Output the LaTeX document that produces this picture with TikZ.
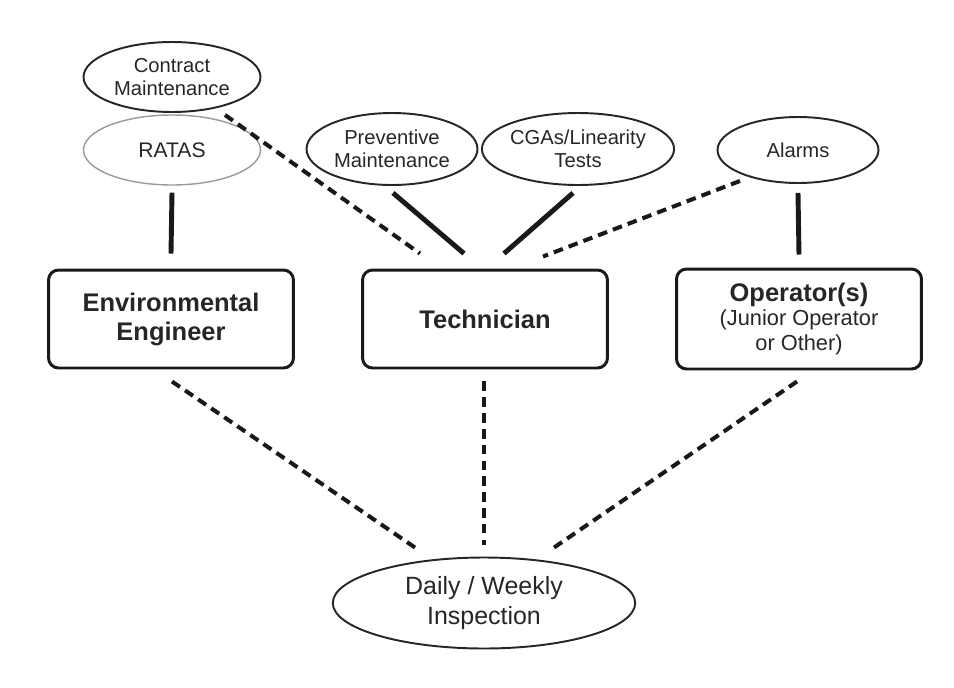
\documentclass[tikz,border=0pt]{standalone}
\usepackage{fontspec}
\setmainfont{Liberation Sans}
\usepackage{tikz}
\usetikzlibrary{calc,positioning,shapes.geometric}

\newcommand{\subrole}[1]{{\fontsize{12.4}{14}\selectfont\mdseries #1}}

\begin{document}
\begin{tikzpicture}[x=0.02cm,y=-0.02cm]

\useasboundingbox (0,0) rectangle (954,687);

\tikzstyle{duty} = [ellipse, draw=black!85, line width=1.1pt, text=black!85, align=center, inner sep=0pt, font=\fontsize{11.5}{13}\selectfont]
\tikzstyle{rolebox} = [rectangle, draw=black!90, line width=1.7pt, rounded corners=0.2cm, text=black!85, align=center, minimum width=4.9cm, minimum height=1.96cm, font=\fontsize{14.5}{16.5}\selectfont\bfseries]
\tikzstyle{solidline} = [black!90, line width=2.8pt]
\tikzstyle{dashline} = [black!90, line width=2.3pt, dash pattern=on 5.5pt off 3.5pt]

% duties
\node (cm) [duty, minimum width=3.54cm, minimum height=1.4cm] at (172,77) {Contract\\Maintenance};
\node (ratas) [duty, draw=black!40, line width=0.8pt, minimum width=3.54cm, minimum height=1.4cm, font=\fontsize{12}{14}\selectfont] at (172,150) {RATAS};
\node (pm) [duty, minimum width=3.42cm, minimum height=1.44cm] at (392,149) {Preventive\\Maintenance};
\node (cga) [duty, minimum width=3.42cm, minimum height=1.44cm] at (578,149) {CGAs/Linearity\\Tests};
\node (alarms) [duty, minimum width=3.22cm, minimum height=1.32cm] at (798,150) {Alarms};

% people
\node (env) [rolebox] at (171,319) {Environmental\\Engineer};
\node (tech) [rolebox] at (485,319) {Technician};
\node (oper) [rolebox, minimum height=2cm] at (799,319) {Operator(s)\\[-3pt]\subrole{(Junior Operator}\\[-2pt]\subrole{or Other)}};

\node (daily) [duty, minimum width=6.05cm, minimum height=1.82cm, font=\fontsize{14.2}{17}\selectfont] at (484,603) {Daily / Weekly\\Inspection};

% links to the top
\draw[solidline] ($(ratas.south)+(0,7)$) -- ($(env.north)+(0,-15)$);
\draw[dashline] ($(cm.south)+(53,2)$) -- ($(tech.north)+(-65,-15)$);
\draw[solidline] ($(pm.south)+(1,7)$) -- ($(tech.north)+(-21,-15)$);
\draw[solidline] ($(cga.south)+(-5,7)$) -- ($(tech.north)+(19,-15)$);
\draw[dashline] ($(alarms.south)+(-58,-3)$) -- ($(tech.north)+(58,-12)$);
\draw[solidline] ($(alarms.south)+(0,9)$) -- ($(oper.north)+(0,-13)$);

% links to the inspection
\draw[dashline] ($(env.south)+(1,12)$) -- ($(daily.north)+(-69,-9)$);
\draw[dashline] ($(tech.south)+(-1,12)$) -- ($(daily.north)+(0,-12)$);
\draw[dashline] ($(oper.south)+(-2,11)$) -- ($(daily.north)+(70,-9)$);

\end{tikzpicture}
\end{document}
